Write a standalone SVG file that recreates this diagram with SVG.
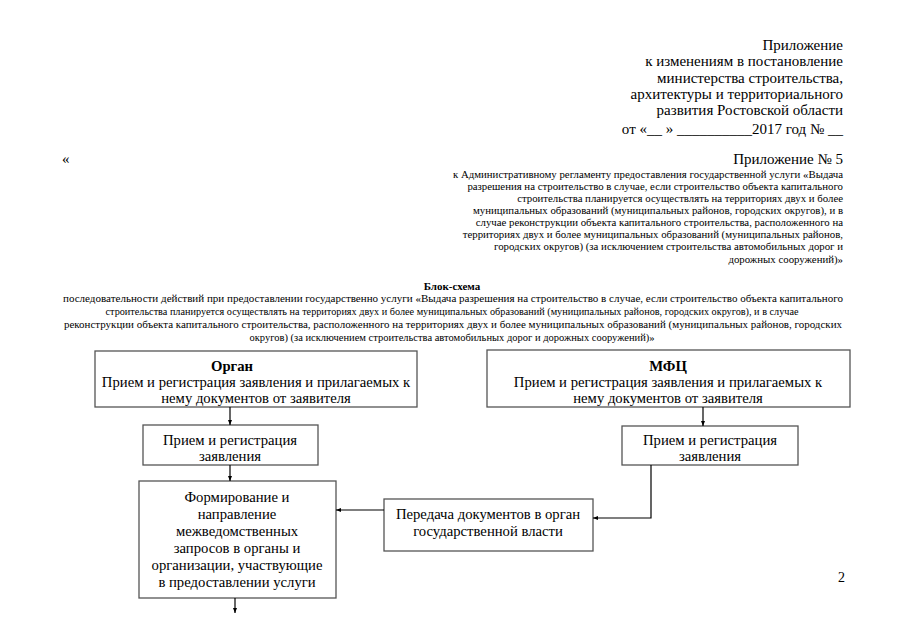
<svg xmlns="http://www.w3.org/2000/svg" width="905" height="640" viewBox="0 0 905 640">
<defs>
<style>
text{font-family:"Liberation Serif","Times New Roman",serif;fill:#000}
.hdr{font-size:15px;text-anchor:end}
.sm{font-size:10.8px;text-anchor:end}
.ttl{font-size:10.5px;text-anchor:middle}
.bx{fill:#fff;stroke:#555;stroke-width:1.3}
.bt{font-size:14.7px;text-anchor:middle}
.b{font-weight:bold}
.cn{fill:none;stroke:#000;stroke-width:1.2}
</style>
<marker id="ah" viewBox="0 0 10 10" refX="10" refY="5" markerWidth="5" markerHeight="5" orient="auto" markerUnits="userSpaceOnUse">
<path d="M0,1 L10,5 L0,9 z" fill="#000"/>
</marker>
</defs>
<rect width="905" height="640" fill="#fff"/>
<g id="header">
<text class="hdr" x="843" y="50">Приложение</text>
<text class="hdr" x="843" y="66">к изменениям в постановление</text>
<text class="hdr" x="843" y="83">министерства строительства,</text>
<text class="hdr" x="843" y="99">архитектуры и территориального</text>
<text class="hdr" x="843" y="115">развития Ростовской области</text>
<text class="hdr" x="843" y="134">от «__ » __________2017 год № __</text>
<text x="62" y="164" style="font-size:15px">«</text>
<text class="hdr" x="843" y="164">Приложение № 5</text>
<text class="sm" x="843" y="178">к Административному регламенту предоставления государственной услуги «Выдача</text>
<text class="sm" x="843" y="190">разрешения на строительство в случае, если строительство объекта капитального</text>
<text class="sm" x="843" y="202">строительства планируется осуществлять на территориях двух и более</text>
<text class="sm" x="843" y="214">муниципальных образований (муниципальных районов, городских округов), и в</text>
<text class="sm" x="843" y="226">случае реконструкции объекта капитального строительства, расположенного на</text>
<text class="sm" x="843" y="238">территориях двух и более муниципальных образований (муниципальных районов,</text>
<text class="sm" x="843" y="250">городских округов) (за исключением строительства автомобильных дорог и</text>
<text class="sm" x="843" y="263">дорожных сооружений)»</text>
</g>
<g id="title">
<text class="ttl b" x="452" y="290" style="font-size:11px">Блок-схема</text>
<text class="ttl" x="453" y="302" textLength="780" lengthAdjust="spacingAndGlyphs">последовательности действий при предоставлении  государственно услуги «Выдача разрешения на строительство в случае, если строительство объекта капитального</text>
<text class="ttl" x="452" y="315" textLength="693" lengthAdjust="spacingAndGlyphs">строительства планируется осуществлять на территориях двух и более муниципальных образований (муниципальных районов, городских округов), и в случае</text>
<text class="ttl" x="453" y="328" textLength="778" lengthAdjust="spacingAndGlyphs">реконструкции объекта капитального строительства, расположенного на территориях двух и более муниципальных образований (муниципальных районов, городских</text>
<text class="ttl" x="452" y="341" textLength="405" lengthAdjust="spacingAndGlyphs">округов) (за исключением строительства автомобильных дорог и дорожных сооружений)»</text>
</g>
<g id="organ">
<rect class="bx" x="95" y="351" width="322" height="56"/>
<text class="bt b" x="232" y="371">Орган</text>
<text class="bt" x="256" y="387">Прием и регистрация заявления и прилагаемых к</text>
<text class="bt" x="256" y="403">нему документов от заявителя</text>
</g>
<g id="mfc">
<rect class="bx" x="487" y="350" width="363" height="57"/>
<text class="bt b" x="668" y="371">МФЦ</text>
<text class="bt" x="668" y="387">Прием и регистрация заявления  и прилагаемых к</text>
<text class="bt" x="668" y="403">нему документов от заявителя</text>
</g>
<g id="reg-left">
<rect class="bx" x="143" y="425" width="175" height="40"/>
<text class="bt" x="230" y="445">Прием и регистрация</text>
<text class="bt" x="230" y="461">заявления</text>
</g>
<g id="reg-right">
<rect class="bx" x="622" y="426" width="176" height="39"/>
<text class="bt" x="710" y="445">Прием и регистрация</text>
<text class="bt" x="710" y="461">заявления</text>
</g>
<g id="form">
<rect class="bx" x="139" y="481" width="197" height="117"/>
<text class="bt" x="237" y="502">Формирование и</text>
<text class="bt" x="237" y="519">направление</text>
<text class="bt" x="237" y="536">межведомственных</text>
<text class="bt" x="237" y="553">запросов в органы и</text>
<text class="bt" x="237" y="570">организации, участвующие</text>
<text class="bt" x="237" y="587">в предоставлении услуги</text>
</g>
<g id="transfer">
<rect class="bx" x="384" y="499" width="209" height="52"/>
<text class="bt" x="488" y="519">Передача документов в орган</text>
<text class="bt" x="488" y="536">государственной власти</text>
</g>
<g id="connectors">
<path class="cn" d="M230,407 V425" marker-end="url(#ah)"/>
<path class="cn" d="M230,465 V481" marker-end="url(#ah)"/>
<path class="cn" d="M235,598 V613" marker-end="url(#ah)"/>
<path class="cn" d="M703,407 V426" marker-end="url(#ah)"/>
<path class="cn" d="M651,465 V518 H593" marker-end="url(#ah)"/>
<path class="cn" d="M384,510 H336" marker-end="url(#ah)"/>
</g>
<text x="838" y="582" style="font-size:14px">2</text>
</svg>
